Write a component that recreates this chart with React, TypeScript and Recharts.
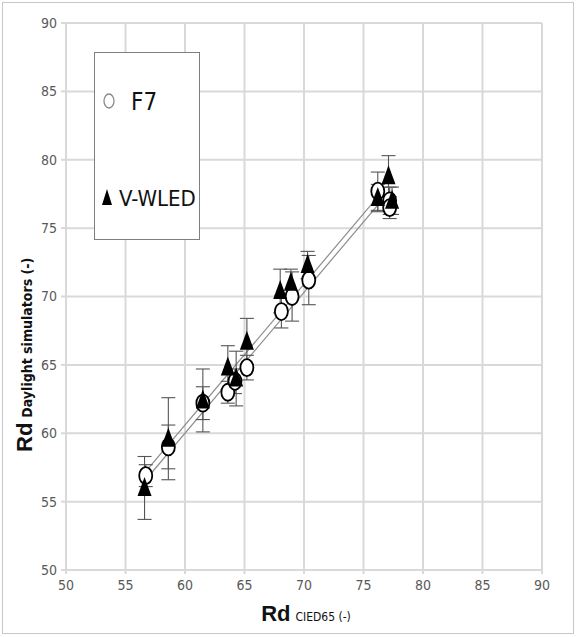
import { ScatterChart, Scatter, XAxis, YAxis, CartesianGrid, ErrorBar, ReferenceLine } from 'recharts';

const xTicks = [50, 55, 60, 65, 70, 75, 80, 85, 90];
const yTicks = [50, 55, 60, 65, 70, 75, 80, 85, 90];

// F7 (open circles)
const f7X = [56.7, 58.6, 61.5, 63.6, 64.2, 65.2, 68.1, 69.0, 70.4, 76.2, 77.2, 77.2];
const f7Y = [56.9, 59.0, 62.2, 63.0, 63.8, 64.8, 68.9, 70.0, 71.2, 77.7, 77.0, 76.5];
const f7Err = [0.8, 1.6, 1.2, 0.8, 0.9, 0.9, 1.2, 1.8, 1.8, 1.4, 1.0, 0.8];

// V-WLED (filled triangles)
const wledX = [56.6, 58.6, 61.5, 63.6, 64.3, 65.2, 68.0, 68.9, 70.3, 77.1, 76.2, 77.4];
const wledY = [56.0, 59.6, 62.4, 64.8, 64.0, 66.7, 70.4, 71.0, 72.3, 78.8, 77.2, 77.0];
const wledErr = [2.3, 3.0, 2.3, 1.6, 2.0, 1.7, 1.6, 1.0, 1.0, 1.5, 1.0, 1.0];

// fitted lines (end points)
const fitF7 = [{ x: 56.7, y: 56.6 }, { x: 76.5, y: 77.0 }];
const fitWled = [{ x: 56.6, y: 57.1 }, { x: 76.5, y: 77.6 }];

const f7Data = f7X.map((x, i) => ({ x, y: f7Y[i], err: f7Err[i] }));
const wledData = wledX.map((x, i) => ({ x, y: wledY[i], err: wledErr[i] }));

const NARROW = "'Liberation Sans Narrow', 'DejaVu Sans Condensed', sans-serif";
const tickStyle = { fill: '#595959', fontSize: 14, fontFamily: NARROW };

const Circle = (p: any) => (
  <ellipse cx={p.cx} cy={p.cy} rx={6.5} ry={8.5} fill="#fff" stroke="#000" strokeWidth={1.8} />
);

const Triangle = (p: any) => (
  <path
    d={`M${p.cx},${p.cy - 11} L${p.cx + 7},${p.cy + 8} L${p.cx - 7},${p.cy + 8} Z`}
    fill="#000"
  />
);

export default function App() {
  return (
    <div style={{ position: 'absolute', left: 0, top: 0, width: 576, height: 637, background: '#fff' }}>
      <div
        style={{
          position: 'absolute',
          left: 2,
          top: 2,
          width: 570,
          height: 630,
          border: '1px solid #c8c8c8',
        }}
      />
      <ScatterChart width={576} height={637} margin={{ top: 23, right: 34, left: 0, bottom: 0 }}>
        <CartesianGrid stroke="#d9d9d9" strokeWidth={2} />
        <XAxis
          type="number"
          dataKey="x"
          domain={[50, 90]}
          ticks={xTicks}
          height={67}
          tick={tickStyle}
          tickSize={4}
          tickMargin={6}
          axisLine={{ stroke: '#d9d9d9', strokeWidth: 2 }}
          tickLine={{ stroke: '#d9d9d9', strokeWidth: 2 }}
        />
        <YAxis
          type="number"
          dataKey="y"
          domain={[50, 90]}
          ticks={yTicks}
          width={66}
          tick={tickStyle}
          tickSize={5}
          tickMargin={4}
          axisLine={{ stroke: '#d9d9d9', strokeWidth: 2 }}
          tickLine={{ stroke: '#d9d9d9', strokeWidth: 2 }}
        />
        <ReferenceLine segment={fitF7} stroke="#8c8c8c" strokeWidth={1.2} />
        <ReferenceLine segment={fitWled} stroke="#8c8c8c" strokeWidth={1.2} />
        <Scatter data={f7Data} shape={Circle} isAnimationActive={false}>
          <ErrorBar dataKey="err" direction="y" width={7} stroke="#555" strokeWidth={1.1} />
        </Scatter>
        <Scatter data={wledData} shape={Triangle} isAnimationActive={false}>
          <ErrorBar dataKey="err" direction="y" width={7} stroke="#555" strokeWidth={1.1} />
        </Scatter>
      </ScatterChart>

      {/* legend */}
      <div
        style={{
          position: 'absolute',
          left: 94,
          top: 52,
          width: 104,
          height: 186,
          border: '1.5px solid #7f7f7f',
          background: '#fff',
        }}
      >
        <svg width={104} height={186} style={{ position: 'absolute', left: 0, top: 0 }}>
          <ellipse cx={14} cy={48} rx={5} ry={7} fill="#fff" stroke="#8a8a8a" strokeWidth={1.3} />
          <text x={36} y={57} fontSize={24} fontFamily={NARROW} fill="#111">
            F7
          </text>
          <path d="M12,136 L17,152 L7,152 Z" fill="#000" />
          <text x={24} y={153} fontSize={22} fontFamily={NARROW} fill="#111">
            V-WLED
          </text>
        </svg>
      </div>

      {/* axis titles */}
      <svg width={576} height={637} style={{ position: 'absolute', left: 0, top: 0, pointerEvents: 'none' }}>
        <text x={306} y={621} textAnchor="middle" fill="#111">
          <tspan fontSize={22} fontWeight="bold" fontFamily="'Liberation Sans', sans-serif">
            Rd
          </tspan>
          <tspan dx={5} fontSize={12} fontFamily={NARROW}>
            CIED65 (-)
          </tspan>
        </text>
        <text transform="translate(32,452) rotate(-90)" textAnchor="start" fill="#111">
          <tspan fontSize={22} fontWeight="bold" fontFamily="'Liberation Sans', sans-serif">
            Rd
          </tspan>
          <tspan dx={5} fontSize={14} fontWeight="bold" fontFamily={NARROW}>
            Daylight simulators (-)
          </tspan>
        </text>
      </svg>
    </div>
  );
}
